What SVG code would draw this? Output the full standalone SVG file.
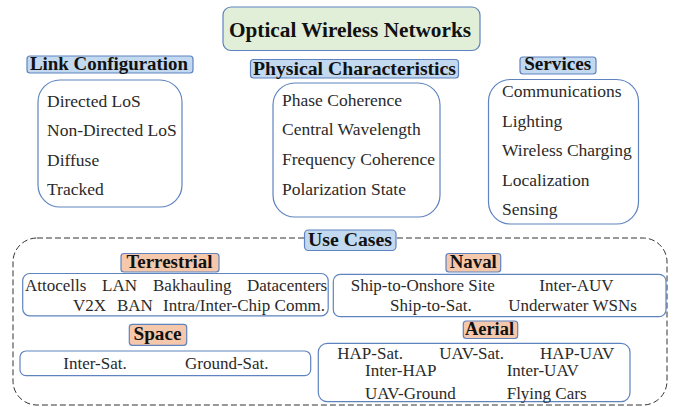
<svg xmlns="http://www.w3.org/2000/svg" width="673" height="407" viewBox="0 0 673 407">
<style>
.i{font-family:'Liberation Serif',serif !important;fill:#2a2a2a;font-size:17.5px}
.u{font-family:'Liberation Serif',serif !important;fill:#2a2a2a;font-size:17px}
.h{font-family:'Liberation Serif',serif !important;font-weight:bold;font-size:18px;fill:#111;text-anchor:middle}
.t{font-family:'Liberation Serif',serif !important;font-weight:bold;font-size:20px;fill:#111;text-anchor:middle}
.blue{fill:#c3d9ef;stroke:#5f83bf;stroke-width:1.2}
.org{fill:#f6c8ab;stroke:#5f83bf;stroke-width:1.2}
.grn{fill:#e1eed8;stroke:#5f83bf;stroke-width:1.2}
.box{fill:#fff;stroke:#5f83bf;stroke-width:1.2}
.dash{fill:none;stroke:#333;stroke-width:1;stroke-dasharray:6 3}
</style>
<g id="usecases-frame"><rect class="dash" x="13" y="238" width="654" height="167" rx="24"/></g>
<g id="connectors"></g>
<g id="title"><rect class="grn" x="223" y="7" width="257" height="43.5" rx="8"/><text style="font-family:'Liberation Serif',serif" class="t" x="350" y="37" textLength="242" lengthAdjust="spacingAndGlyphs">Optical Wireless Networks</text></g>
<g id="link">
<rect class="blue" x="27" y="56" width="166" height="17" rx="3"/><text style="font-family:'Liberation Serif',serif" class="h" x="109" y="70" textLength="158" lengthAdjust="spacingAndGlyphs">Link Configuration</text>
<rect class="box" x="38" y="80" width="144" height="127" rx="22"/>
<text style="font-family:'Liberation Serif',serif" class="i" x="47" y="106.5">Directed LoS</text><text style="font-family:'Liberation Serif',serif" class="i" x="47" y="136">Non-Directed LoS</text><text style="font-family:'Liberation Serif',serif" class="i" x="47" y="165.5">Diffuse</text><text style="font-family:'Liberation Serif',serif" class="i" x="47" y="195">Tracked</text>
</g>
<g id="physical">
<rect class="blue" x="250.5" y="59.5" width="208" height="18.5" rx="3"/><text style="font-family:'Liberation Serif',serif" class="h" x="354.5" y="74.5" textLength="203" lengthAdjust="spacingAndGlyphs">Physical Characteristics</text>
<rect class="box" x="273" y="83" width="167" height="134" rx="22"/>
<text style="font-family:'Liberation Serif',serif" class="i" x="282" y="106">Phase Coherence</text><text style="font-family:'Liberation Serif',serif" class="i" x="282" y="135">Central Wavelength</text><text style="font-family:'Liberation Serif',serif" class="i" x="282" y="165">Frequency Coherence</text><text style="font-family:'Liberation Serif',serif" class="i" x="282" y="195">Polarization State</text>
</g>
<g id="services">
<rect class="blue" x="520" y="57" width="76" height="17" rx="3"/><text style="font-family:'Liberation Serif',serif" class="h" x="557.7" y="70" textLength="67" lengthAdjust="spacingAndGlyphs">Services</text>
<rect class="box" x="488.5" y="79.5" width="150" height="144.5" rx="22"/>
<text style="font-family:'Liberation Serif',serif" class="i" x="502" y="96.7">Communications</text><text style="font-family:'Liberation Serif',serif" class="i" x="502" y="126.7">Lighting</text><text style="font-family:'Liberation Serif',serif" class="i" x="502" y="156">Wireless Charging</text><text style="font-family:'Liberation Serif',serif" class="i" x="502" y="185.7">Localization</text><text style="font-family:'Liberation Serif',serif" class="i" x="502" y="215">Sensing</text>
</g>
<g id="usecases"><rect class="blue" x="304.5" y="230" width="91.5" height="20.5" rx="4"/><text style="font-family:'Liberation Serif',serif" class="h" x="350" y="246" textLength="84" lengthAdjust="spacingAndGlyphs">Use Cases</text></g>
<g id="terrestrial">
<rect class="org" x="121" y="253.5" width="98" height="18.5" rx="3"/><text style="font-family:'Liberation Serif',serif" class="h" x="169.5" y="268" textLength="86" lengthAdjust="spacingAndGlyphs">Terrestrial</text>
<rect class="box" x="22.7" y="273.5" width="305.5" height="42.3" rx="7"/>
<text style="font-family:'Liberation Serif',serif" class="u" x="25" y="290.7">Attocells</text><text style="font-family:'Liberation Serif',serif" class="u" x="102" y="290.7">LAN</text><text style="font-family:'Liberation Serif',serif" class="u" x="153" y="290.7">Bakhauling</text><text style="font-family:'Liberation Serif',serif" class="u" x="247" y="290.7">Datacenters</text>
<text style="font-family:'Liberation Serif',serif" class="u" x="73" y="311">V2X</text><text style="font-family:'Liberation Serif',serif" class="u" x="117" y="311">BAN</text><text style="font-family:'Liberation Serif',serif" class="u" x="163" y="311">Intra/Inter-Chip Comm.</text>
</g>
<g id="space">
<rect class="org" x="129.3" y="324.3" width="57.4" height="21" rx="3"/><text style="font-family:'Liberation Serif',serif" class="h" x="157.5" y="340" textLength="48" lengthAdjust="spacingAndGlyphs">Space</text>
<rect class="box" x="20" y="351" width="290.7" height="24.7" rx="6"/>
<text style="font-family:'Liberation Serif',serif" class="u" x="63.3" y="368.5">Inter-Sat.</text><text style="font-family:'Liberation Serif',serif" class="u" x="185" y="368.5">Ground-Sat.</text>
</g>
<g id="naval">
<rect class="org" x="446" y="253.5" width="54.7" height="18.5" rx="3"/><text style="font-family:'Liberation Serif',serif" class="h" x="473.3" y="268" textLength="47" lengthAdjust="spacingAndGlyphs">Naval</text>
<rect class="box" x="333.3" y="274.3" width="332.7" height="42.4" rx="7"/>
<text style="font-family:'Liberation Serif',serif" class="u" x="350.7" y="291">Ship-to-Onshore Site</text><text style="font-family:'Liberation Serif',serif" class="u" x="539.3" y="291">Inter-AUV</text>
<text style="font-family:'Liberation Serif',serif" class="u" x="390" y="311">Ship-to-Sat.</text><text style="font-family:'Liberation Serif',serif" class="u" x="508.3" y="311">Underwater WSNs</text>
</g>
<g id="aerial">
<rect class="org" x="463.3" y="321" width="54.4" height="17.5" rx="3"/><text style="font-family:'Liberation Serif',serif" class="h" x="489.5" y="335" textLength="49" lengthAdjust="spacingAndGlyphs">Aerial</text>
<rect class="box" x="318.3" y="343.3" width="311.7" height="58.4" rx="9"/>
<text style="font-family:'Liberation Serif',serif" class="u" x="337.3" y="359.3">HAP-Sat.</text><text style="font-family:'Liberation Serif',serif" class="u" x="439.3" y="359.3">UAV-Sat.</text><text style="font-family:'Liberation Serif',serif" class="u" x="540" y="359.3">HAP-UAV</text>
<text style="font-family:'Liberation Serif',serif" class="u" x="365" y="375.7">Inter-HAP</text><text style="font-family:'Liberation Serif',serif" class="u" x="506.7" y="375.7">Inter-UAV</text>
<text style="font-family:'Liberation Serif',serif" class="u" x="365" y="399">UAV-Ground</text><text style="font-family:'Liberation Serif',serif" class="u" x="506.7" y="399">Flying Cars</text>
</g>
</svg>
